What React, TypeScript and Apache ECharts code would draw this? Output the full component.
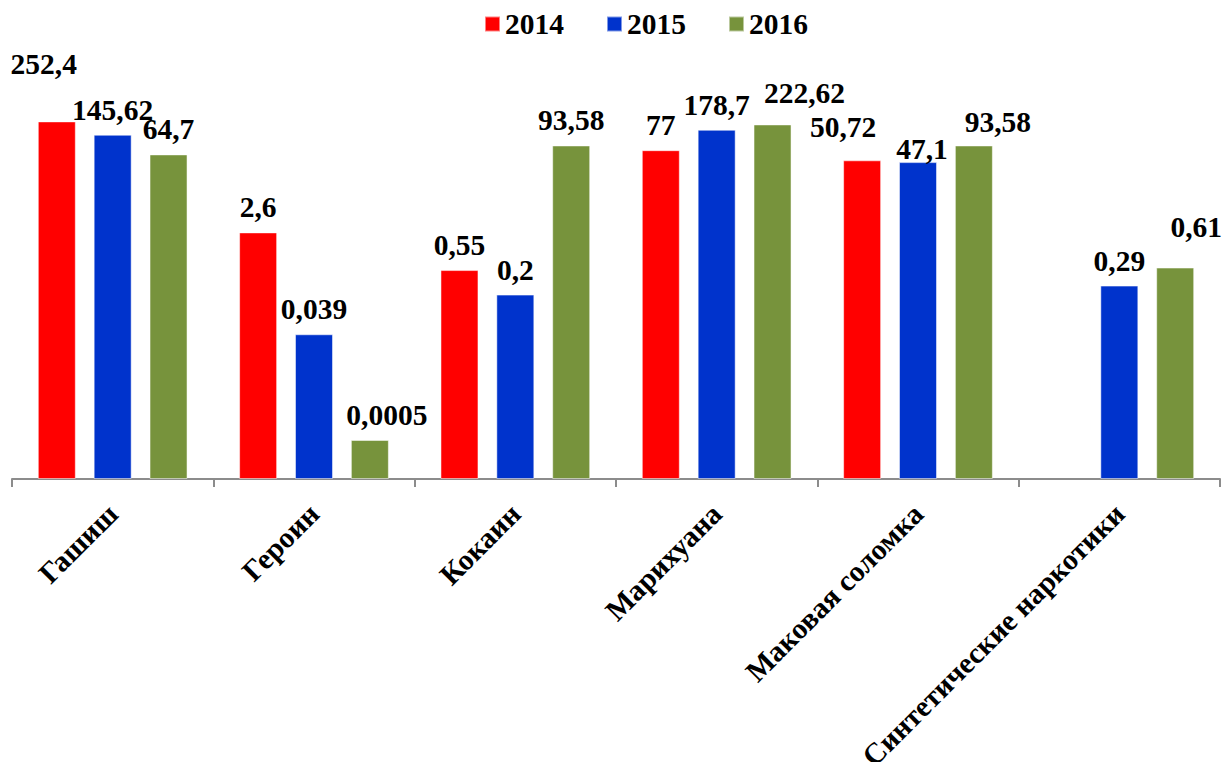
import React, { useEffect, useRef } from "react";
import * as echarts from "echarts";

const categories = [
  "Гашиш",
  "Героин",
  "Кокаин",
  "Марихуана",
  "Маковая соломка",
  "Синтетические наркотики",
];
const seriesNames = ["2014", "2015", "2016"];
const values2014: (number | null)[] = [252.4, 2.6, 0.55, 77, 50.72, null];
const values2015: (number | null)[] = [145.62, 0.039, 0.2, 178.7, 47.1, 0.29];
const values2016: (number | null)[] = [64.7, 0.0005, 93.58, 222.62, 93.58, 0.61];

// logarithmic value axis (as in the original): from 10^-4 to 10^3
const LOG_MIN = -4;
const LOG_MAX = 3;

const colors = ["#FF0000", "#0033CC", "#77933C"];

// manual label nudges (as in the original Excel chart) "series-category" -> [dx, dy]
const labelNudges: Record<string, [number, number]> = {
  "0-0": [-13, -32],
  "2-1": [17, 0],
  "2-3": [32, -6],
  "0-4": [-19, -8],
  "1-4": [4, 12],
  "2-4": [24, 2],
  "2-5": [21, -16],
};

const FONT = "Liberation Serif";
const FS = 29.5;

export default function App() {
  const ref = useRef<HTMLDivElement>(null);
  useEffect(() => {
    if (!ref.current) return;
    const chart = echarts.init(ref.current, null, { renderer: "svg" });
    const allValues = [values2014, values2015, values2016];
    const series = allValues.map((vals, si) => ({
      name: seriesNames[si],
      type: "bar",
      barWidth: 38,
      barGap: "47%",
      itemStyle: { color: colors[si], borderColor: "rgba(255,255,255,0.5)", borderWidth: 1 },
      label: {
        show: true,
        position: "top",
        distance: 10,
        fontFamily: FONT,
        fontWeight: "bold",
        fontSize: FS,
        color: "#000",
        formatter: (p: any) => String(p.data.raw).replace(".", ","),
      },
      data: vals.map((v, ci) => {
        if (v === null) return null;
        const n = labelNudges[`${si}-${ci}`];
        const item: any = { value: Math.log10(v) - LOG_MIN, raw: v };
        if (n) item.label = { offset: n };
        return item;
      }),
    }));
    chart.setOption({
      animation: false,
      backgroundColor: "#fff",
      legend: {
        data: seriesNames,
        left: 479,
        top: 4,
        icon: "rect",
        itemWidth: 15,
        itemHeight: 15,
        itemGap: 42,
        textStyle: { fontFamily: FONT, fontWeight: "bold", fontSize: FS, color: "#000" },
      },
      grid: {
        left: 12,
        right: 3,
        top: 88,
        bottom: 283,
        containLabel: false,
        outerBoundsMode: "none",
      },
      xAxis: {
        type: "category",
        data: categories,
        axisLine: { lineStyle: { color: "#8c8c8c", width: 2 } },
        axisTick: { show: true, length: 8, lineStyle: { color: "#8c8c8c", width: 2 } },
        axisLabel: {
          rotate: 45,
          interval: 0,
          margin: 30,
          padding: [26, 0, 0, 0],
          fontFamily: FONT,
          fontWeight: "bold",
          fontSize: FS,
          color: "#000",
        },
      },
      yAxis: {
        type: "value",
        min: 0,
        max: LOG_MAX - LOG_MIN,
        show: false,
        splitLine: { show: false },
      },
      series,
    });
    return () => chart.dispose();
  }, []);
  return <div ref={ref} style={{ width: 1223, height: 762, position: "absolute", left: 0, top: 0 }} />;
}
